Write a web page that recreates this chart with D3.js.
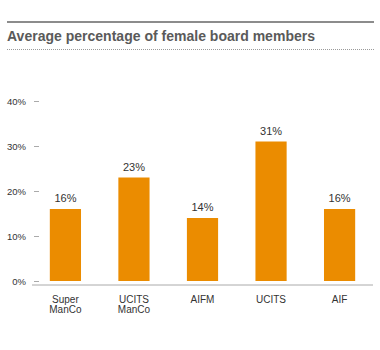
<!DOCTYPE html>
<html>
<head>
<meta charset="utf-8">
<script src="https://cdn.jsdelivr.net/npm/d3@7"></script>
<style>
  html, body { margin: 0; padding: 0; background: #fff; }
  svg { display: block; font-family: "Liberation Sans", Arial, Helvetica, sans-serif; }
</style>
</head>
<body>
<svg id="chart" width="380" height="350"></svg>
<script>
const categories = [["Super", "ManCo"], ["UCITS", "ManCo"], ["AIFM"], ["UCITS"], ["AIF"]];
const values = [16, 23, 14, 31, 16];
const tickValues = [0, 10, 20, 30, 40];
const title = "Average percentage of female board members";

const svg = d3.select("#chart");

// Header rules and title
svg.append("line").attr("x1", 7).attr("x2", 374).attr("y1", 22).attr("y2", 22)
  .attr("stroke", "#8c8c8c").attr("stroke-width", 2);
svg.append("text").attr("x", 7).attr("y", 40.5)
  .attr("font-size", 14.3).attr("font-weight", "bold").attr("fill", "#5a5a5a")
  .attr("textLength", 308).attr("lengthAdjust", "spacingAndGlyphs")
  .text(title);
svg.append("line").attr("x1", 7).attr("x2", 374).attr("y1", 49.5).attr("y2", 49.5)
  .attr("stroke", "#9a9a9a").attr("stroke-width", 1).attr("stroke-dasharray", "1,1");

// Scales
const y = d3.scaleLinear().domain([0, 40]).range([281, 101]);
const x = d3.scaleBand().domain(d3.range(categories.length))
  .range([32, 373]).paddingInner(0.545).paddingOuter(0.26);

// Y axis: short dashes with percentage labels
const yAxis = d3.axisLeft(y).tickValues(tickValues).tickSize(5).tickFormat(d => d + "%");
const gy = svg.append("g").attr("transform", "translate(39,0)").call(yAxis);
gy.select(".domain").remove();
gy.selectAll(".tick line").attr("stroke", "#aaa");
gy.selectAll(".tick text").attr("x", -13).attr("font-size", 9.5).attr("fill", "#333")
  .attr("font-family", "'Liberation Sans', Arial, sans-serif");

// Baseline
svg.append("line").attr("x1", 32).attr("x2", 373).attr("y1", 285).attr("y2", 285)
  .attr("stroke", "#aaa").attr("stroke-width", 1);

// Bars
svg.append("g").selectAll("rect").data(values).join("rect")
  .attr("x", (d, i) => x(i))
  .attr("width", x.bandwidth())
  .attr("y", d => y(d))
  .attr("height", d => y(0) - y(d))
  .attr("fill", "#eb8c00");

// Value labels
svg.append("g").selectAll("text").data(values).join("text")
  .attr("x", (d, i) => x(i) + x.bandwidth() / 2)
  .attr("y", d => y(d) - 7)
  .attr("text-anchor", "middle").attr("font-size", 11).attr("fill", "#333")
  .text(d => d + "%");

// Category labels, one text per line
const catG = svg.append("g");
categories.forEach((lines, i) => {
  lines.forEach((l, j) => {
    catG.append("text")
      .attr("x", x(i) + x.bandwidth() / 2)
      .attr("y", 302.5 + j * 10.5)
      .attr("text-anchor", "middle").attr("font-size", 10).attr("fill", "#333")
      .text(l);
  });
});
</script>
</body>
</html>
